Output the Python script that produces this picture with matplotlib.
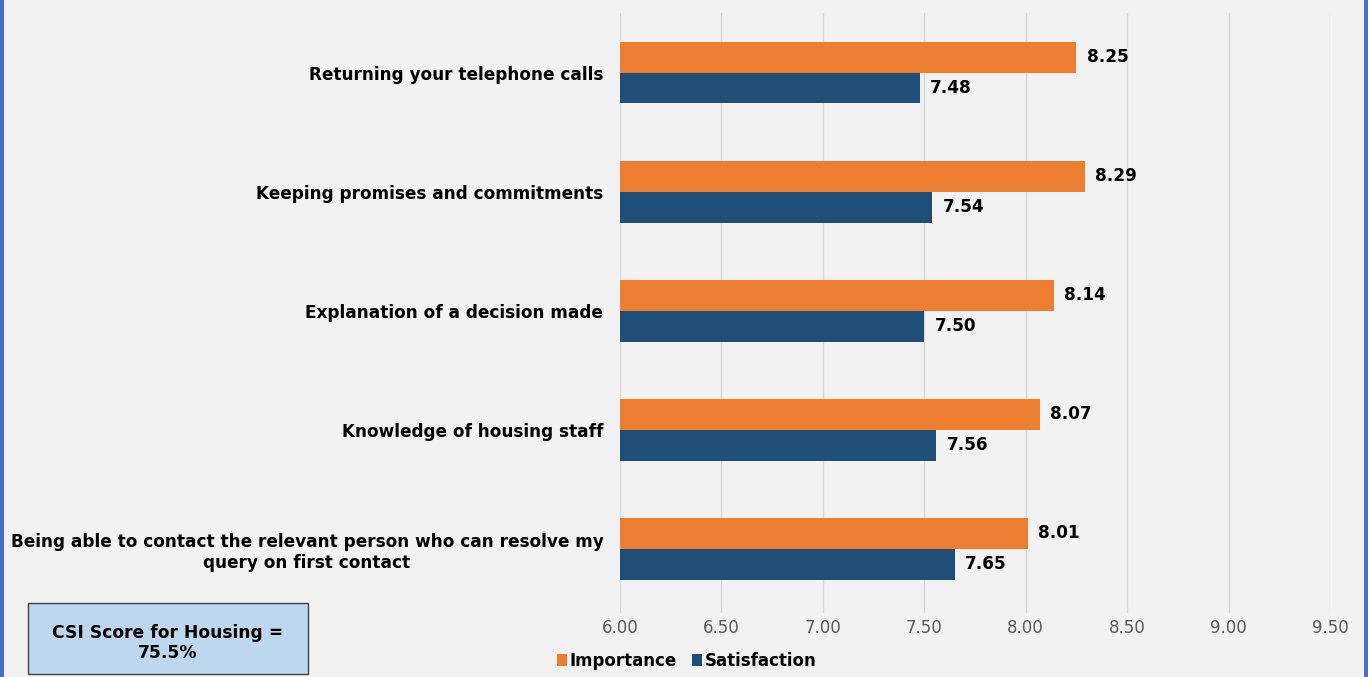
import numpy as np
import matplotlib.pyplot as plt
from matplotlib.patches import Rectangle

categories = [
    "Returning your telephone calls",
    "Keeping promises and commitments",
    "Explanation of a decision made",
    "Knowledge of housing staff",
    "Being able to contact the relevant person who can resolve my\nquery on first contact",
]
importance = [8.25, 8.29, 8.14, 8.07, 8.01]
satisfaction = [7.48, 7.54, 7.50, 7.56, 7.65]
xticks = [6.0, 6.5, 7.0, 7.5, 8.0, 8.5, 9.0, 9.5]
csi_text = "CSI Score for Housing =\n75.5%"

orange = "#ED7D31"
navy = "#1F4E79"
bg = "#F2F2F2"

fig = plt.figure(figsize=(13.68, 6.77), dpi=100, facecolor=bg)
ax = fig.add_axes([0.4532, 0.0945, 0.5190, 0.8863])
ax.set_facecolor(bg)

y = np.arange(len(categories))
h = 0.26
b1 = ax.barh(y - h / 2, importance, height=h, color=orange, label="Importance")
b2 = ax.barh(y + h / 2, satisfaction, height=h, color=navy, label="Satisfaction")

for bars, vals in ((b1, importance), (b2, satisfaction)):
    for rect, v in zip(bars, vals):
        ax.text(v + 0.05, rect.get_y() + rect.get_height() / 2, f"{v:.2f}",
                va="center", ha="left", fontsize=12.2, fontweight="bold", color="black")

ax.set_xlim(6.0, 9.5)
# a little spare room under the last group, above the tick labels
ax.set_ylim(len(categories) - 0.46, -0.5)
ax.set_xticks(xticks)
ax.set_xticklabels([f"{t:.2f}" for t in xticks], fontsize=12, color="#595959")
ax.set_yticks(y)
ax.set_yticklabels(categories, fontsize=12.2, fontweight="bold", multialignment="center")
ax.tick_params(axis="both", length=0)
ax.tick_params(axis="x", pad=4)
ax.tick_params(axis="y", pad=12)
ax.grid(axis="x", color="#D9D9D9", linewidth=1)
ax.set_axisbelow(True)
for s in ax.spines.values():
    s.set_visible(False)

fig.legend(handles=[b1, b2], loc="center", bbox_to_anchor=(0.502, 0.024), ncol=2,
           frameon=False, handlelength=0.6, handleheight=0.75, handletextpad=0.15,
           columnspacing=0.9, prop={"weight": "bold", "size": 12})

# score box in the lower-left corner
fig.patches.append(Rectangle((28 / 1368, 3 / 677), 280 / 1368, 71 / 677,
                             transform=fig.transFigure, facecolor="#BDD7EE",
                             edgecolor="#404040", linewidth=1))
fig.text(168 / 1368, 34 / 677, csi_text, ha="center", va="center",
         fontsize=12.3, fontweight="bold", multialignment="center")

# blue frame on the side edges
for x0 in (0, 1364 / 1368):
    fig.patches.append(Rectangle((x0, 0), 4 / 1368, 1, transform=fig.transFigure,
                                 facecolor="#4472C4", edgecolor="none"))

fig.savefig("out.png", dpi=100, facecolor=bg)
